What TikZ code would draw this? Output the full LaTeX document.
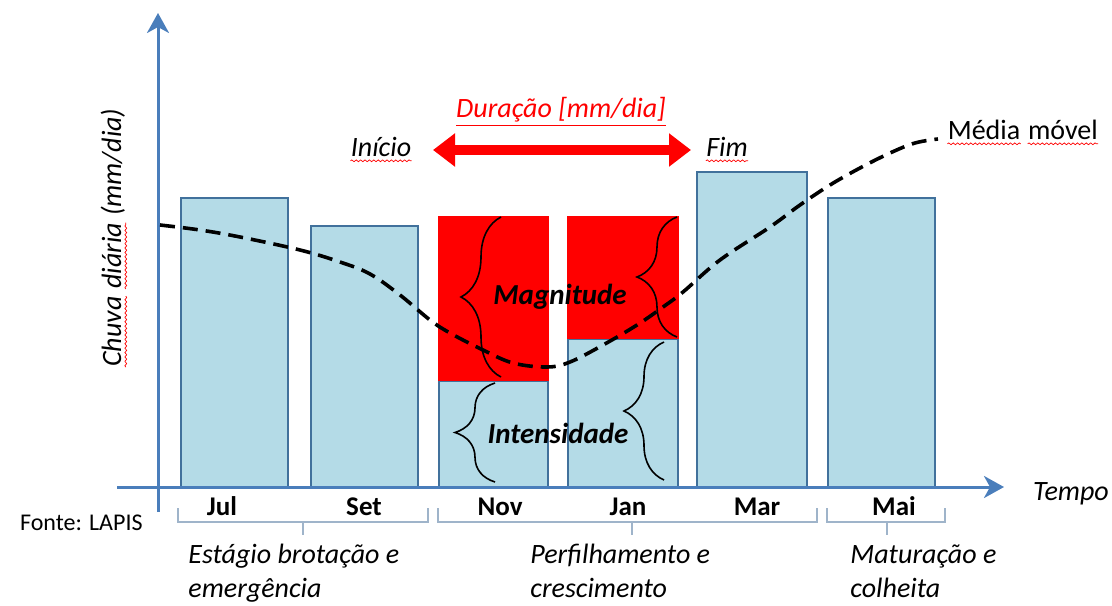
\documentclass[tikz,border=0pt]{standalone}
\usepackage{fontspec}
\setmainfont{Carlito}
\usetikzlibrary{arrows.meta,decorations.pathreplacing,decorations.pathmorphing}
\definecolor{axisblue}{HTML}{4A7EBB}
\definecolor{barfill}{HTML}{B4DBE7}
\definecolor{baredge}{HTML}{41719C}
\definecolor{bracegray}{HTML}{9FB4CA}
%% red wavy line under a word
\newcommand{\spellwave}[1]{\tikz[baseline=(sw.base)]{\node[inner sep=0pt] (sw) {#1};\draw[red,line width=0.35pt,decorate,decoration={snake,amplitude=0.45pt,segment length=2.2pt}] ([yshift=-2.4pt]sw.base west) -- ([yshift=-2.4pt]sw.base east);}}
\begin{document}
\begin{tikzpicture}[x=0.5pt,y=-0.5pt,
    every node/.style={font=\fontsize{14}{17.5}\selectfont},
    axis/.style={line width=1.5pt,draw=axisblue,-{Stealth[length=10pt,width=11pt,inset=3pt]}},
    bar/.style={fill=barfill,draw=baredge,line width=1pt},
    redbar/.style={fill=red,draw=none},
    mean/.style={line width=1.8pt,dash pattern=on 7.5pt off 4pt},
    cbrace/.style={decorate,decoration={brace,amplitude=20pt},line width=0.8pt},
    phase/.style={draw=bracegray,line width=0.9pt},
    month/.style={font=\fontsize{13.5}{16}\selectfont\bfseries},
    stage/.style={font=\fontsize{14}{17}\selectfont\itshape,align=left,inner sep=0pt}]
\useasboundingbox (0,0) rectangle (1112,605);
%% bars
\draw[bar] (181,487) rectangle (288,198);
\draw[bar] (311,487) rectangle (418,226);
\draw[bar] (439,487) rectangle (548,381);
\draw[redbar] (438,216) rectangle (549,381);
\draw[bar] (568,487) rectangle (678,339);
\draw[redbar] (567,216) rectangle (679,339);
\draw[bar] (697,487) rectangle (807,172);
\draw[bar] (828,487) rectangle (935,198);
%% axes
\coordinate (xo) at (117,487);
\coordinate (xe) at (1004,487);
\coordinate (yo) at (158,512);
\coordinate (ye) at (158,13);
\draw[axis] (xo) -- (xe);
\draw[axis] (yo) -- (ye);
\node[anchor=base,rotate=90] (ylab) at (121,238) {\itshape\spellwave{Chuva} \spellwave{diária} (mm/dia)};
\node[font=\fontsize{14}{17.5}\selectfont\itshape] (tempo) at (1071,494) {Tempo};
\node[anchor=base west,font=\fontsize{12}{15}\selectfont] (fonte) at (13,530) {Fonte: LAPIS};
%% months
\node[month,anchor=base] (jul) at (222,515) {Jul};
\node[month,anchor=base] (set) at (364,515) {Set};
\node[month,anchor=base] (nov) at (500,515) {Nov};
\node[month,anchor=base] (jan) at (628,515) {Jan};
\node[month,anchor=base] (mar) at (757,515) {Mar};
\node[month,anchor=base] (mai) at (894,515) {Mai};
%% moving average
\draw[mean] plot[smooth,tension=0.6] coordinates {(160,225) (200,230) (240,237) (300,250) (340,262) (370,274) (400,295) (430,320) (450,333) (483,350) (513,363) (547,367) (570,362) (603,345) (637,325) (663,307) (683,292) (720,260) (770,227) (800,205) (830,185) (860,168) (890,153) (915,143) (938,139)};
\node[anchor=base west] (media) at (940,139) {\spellwave{Média} \spellwave{móvel}};
%% duration
\coordinate (dl) at (433,150);
\coordinate (dr) at (691,150);
\draw[red,line width=5pt,{Triangle[length=11pt,width=16pt]}-{Triangle[length=11pt,width=16pt]}] (dl) -- (dr);
\node[red,font=\fontsize{14}{17.5}\selectfont\itshape] (dur) at (561,112) {\underline{Duração [mm/dia]}};
\node[font=\fontsize{14}{17.5}\selectfont\itshape,anchor=base] (ini) at (381,156) {\spellwave{Início}};
\node[font=\fontsize{14}{17.5}\selectfont\itshape,anchor=base] (fim) at (727,156) {\spellwave{Fim}};
%% braces
\coordinate (nma) at (501,377);
\coordinate (nmb) at (501,217);
\coordinate (nia) at (495,482);
\coordinate (nib) at (495,383);
\coordinate (jma) at (677,337);
\coordinate (jmb) at (677,217);
\coordinate (jia) at (664,480);
\coordinate (jib) at (664,342);
\draw[cbrace] (nma) -- (nmb);
\draw[cbrace] (nia) -- (nib);
\draw[cbrace] (jma) -- (jmb);
\draw[cbrace] (jia) -- (jib);
\node[font=\fontsize{14.5}{17.5}\selectfont\bfseries\itshape] (mag) at (560,297) {Magnitude};
\node[font=\fontsize{14.5}{17.5}\selectfont\bfseries\itshape] (int) at (558,433) {Intensidade};
%% phases
\draw[phase] (178,508) -- (178,522) -- (428,522) -- (428,508) (303,522) -- (303,535);
\draw[phase] (438,508) -- (438,522) -- (817,522) -- (817,508) (632,522) -- (632,535);
\draw[phase] (827,508) -- (827,522) -- (945,522) -- (945,508) (887,522) -- (887,535);
\node[stage,anchor=north west] (st1) at (188,544) {Estágio brotação e\\emergência};
\node[stage,anchor=north west] (st2) at (530,544) {Perfilhamento e\\crescimento};
\node[stage,anchor=north west] (st3) at (850,544) {Maturação e\\colheita};
\end{tikzpicture}
\end{document}
